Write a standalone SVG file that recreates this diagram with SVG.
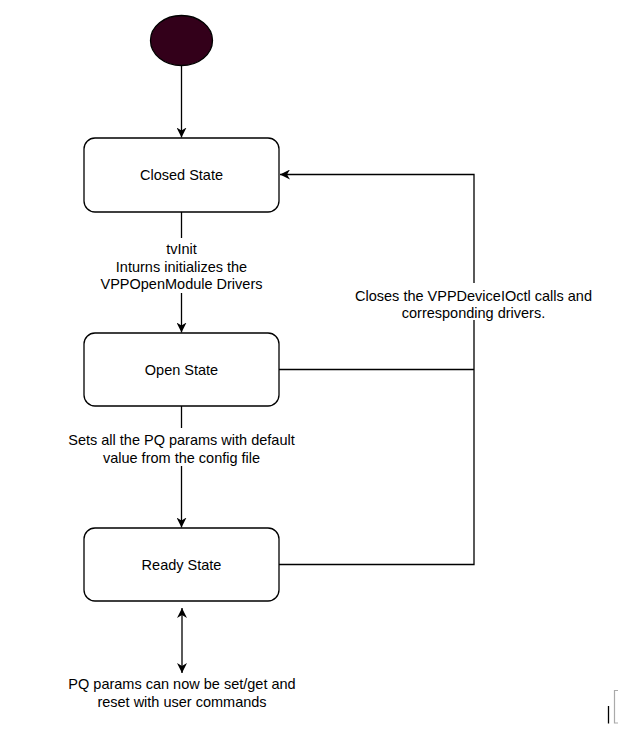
<svg xmlns="http://www.w3.org/2000/svg" width="618" height="736" viewBox="0 0 618 736">
<defs>
<style>
.box{fill:#ffffff;stroke:#000000;stroke-width:1.3}
.edge{fill:none;stroke:#000000;stroke-width:1.3}
.lbl{font-family:"Liberation Sans",Arial,sans-serif;font-size:14.5px;fill:#000000;text-anchor:middle}
.lblbg{fill:#ffffff;stroke:none}
</style>
<marker id="arrow" viewBox="0 0 10 10" refX="10" refY="5" markerWidth="10" markerHeight="10" markerUnits="userSpaceOnUse" orient="auto-start-reverse">
<path d="M0,0 L10,5 L0,10 L3,5 Z" fill="#000000"/>
</marker>
</defs>
<rect width="618" height="736" fill="#ffffff"/>
<g id="connectors">
<path class="edge" d="M181.5,66 L181.5,137.5" marker-end="url(#arrow)"/>
<path class="edge" d="M181.5,212 L181.5,332.5" marker-end="url(#arrow)"/>
<path class="edge" d="M181.5,406 L181.5,527.5" marker-end="url(#arrow)"/>
<path class="edge" d="M279,369.5 L474,369.5"/>
<path class="edge" d="M279,564.5 L474,564.5 L474,174.5 L280,174.5" marker-end="url(#arrow)"/>
<path class="edge" d="M182,608 L182,673" marker-start="url(#arrow)" marker-end="url(#arrow)"/>
<g id="label-init">
<rect class="lblbg" x="98" y="238" width="168" height="55"/>
<text class="lbl" x="181.5" y="254">tvInit</text>
<text class="lbl" x="181.5" y="271.5">Inturns initializes the</text>
<text class="lbl" x="181.5" y="289">VPPOpenModule Drivers</text>
</g>
<g id="label-ready">
<rect class="lblbg" x="65" y="428" width="233" height="38"/>
<text class="lbl" x="181.5" y="445">Sets all the PQ params with default</text>
<text class="lbl" x="181.5" y="463">value from the config file</text>
</g>
<g id="label-close">
<rect class="lblbg" x="352" y="283" width="243" height="37"/>
<text class="lbl" x="473.5" y="300.5">Closes the VPPDeviceIOctl calls and</text>
<text class="lbl" x="473.5" y="318">corresponding drivers.</text>
</g>
</g>
<g id="start">
<ellipse cx="181.5" cy="40.5" rx="31" ry="25" fill="#33001a" stroke="#000000" stroke-width="1.3"/>
</g>
<g id="closed-state">
<rect class="box" x="84" y="138" width="195" height="74" rx="11" ry="11"/>
<text class="lbl" x="181.5" y="180">Closed State</text>
</g>
<g id="open-state">
<rect class="box" x="84" y="333" width="195" height="73" rx="11" ry="11"/>
<text class="lbl" x="181.5" y="374.5">Open State</text>
</g>
<g id="ready-state">
<rect class="box" x="84" y="528" width="195" height="73" rx="11" ry="11"/>
<text class="lbl" x="181.5" y="569.5">Ready State</text>
</g>
<g id="user-commands">
<text class="lbl" x="182" y="688.5">PQ params can now be set/get and</text>
<text class="lbl" x="182" y="707">reset with user commands</text>
</g>
<g id="corner-artifact">
<line x1="608.5" y1="706" x2="608.5" y2="723.5" stroke="#000000" stroke-width="1.3"/>
<path d="M619,690.5 L614.5,690.5 L614.5,723 L619,723" fill="none" stroke="#aaaaaa" stroke-width="1.2"/>
</g>
</svg>
